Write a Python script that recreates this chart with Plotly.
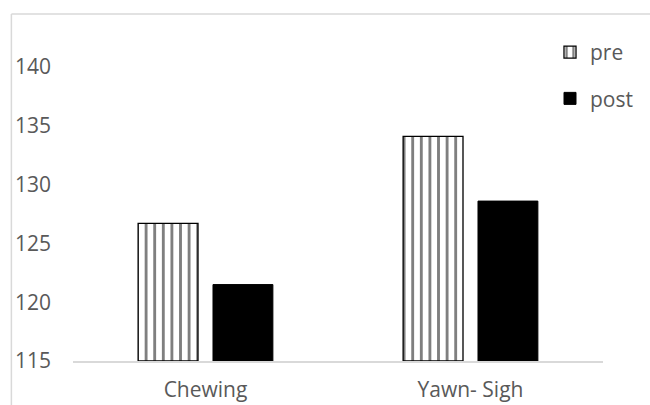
import plotly.graph_objects as go

categories = ["Chewing", "Yawn- Sigh"]
pre_values = [126.7, 134.1]
post_values = [121.5, 128.6]
y_ticks = [115, 120, 125, 130, 135, 140]
y_base = 115

fig = go.Figure()
fig.add_trace(go.Bar(
    x=categories, y=[v - y_base for v in pre_values], name="pre", legendgroup="pre",
    base=y_base,
    marker=dict(color="white", line=dict(color="black", width=1.3),
                pattern=dict(shape="|", fgcolor="black", bgcolor="white",
                             size=8.6, solidity=0.33, fillmode="overlay")),
))
fig.add_trace(go.Bar(
    x=categories, y=[v - y_base for v in post_values], name="post", legendgroup="post",
    base=y_base,
    marker=dict(color="black", line=dict(color="black", width=1)),
))

fig.update_layout(
    width=650, height=405,
    margin=dict(l=73, r=35, t=20, b=44),
    paper_bgcolor="white", plot_bgcolor="white",
    barmode="group", bargap=0.435, bargroupgap=0.2,
    font=dict(family="Open Sans", size=21, color="#595959"),
    showlegend=True,
    legend=dict(x=0.9, y=0.965, xanchor="left", yanchor="top",
                font=dict(size=21, color="#595959"),
                tracegroupgap=16, bgcolor="rgba(0,0,0,0)",
                itemwidth=30),
    xaxis=dict(showgrid=False, showline=True, linecolor="#d9d9d9", linewidth=1.5,
               ticks="", ticklabelstandoff=9, automargin=False,
               tickfont=dict(size=21, color="#595959")),
    yaxis=dict(range=[115, 144], tickvals=y_ticks, showgrid=False, showline=False,
               zeroline=False, ticks="", ticklabelstandoff=21, automargin=False,
               tickfont=dict(size=21, color="#595959")),
    shapes=[
        dict(type="line", xref="paper", yref="paper",
             x0=(10 - 73) / 542, x1=1.2, y0=(361 - 14) / 341, y1=(361 - 14) / 341,
             line=dict(color="#d9d9d9", width=1.5)),
        dict(type="line", xref="paper", yref="paper",
             x0=(10 - 73) / 542, x1=(10 - 73) / 542, y0=(361 - 14) / 341, y1=-0.3,
             line=dict(color="#d9d9d9", width=1.5)),
    ],
)

fig.write_html("out.html")
